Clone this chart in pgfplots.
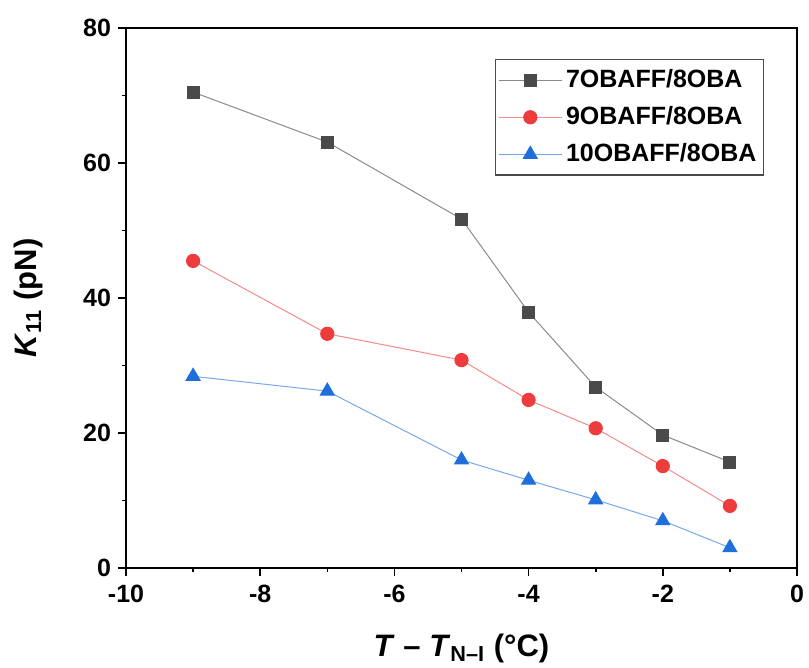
\documentclass[border=0pt]{standalone}
\usepackage{fontspec}
\setmainfont{Liberation Sans}
\usepackage{pgfplots}
\pgfplotsset{compat=1.18}

\definecolor{sgray}{HTML}{4A4A4A}
\definecolor{sgrayl}{HTML}{8A8A8A}
\definecolor{sred}{HTML}{EE3B3B}
\definecolor{sredl}{HTML}{F58A8A}
\definecolor{sblue}{HTML}{1E6FDB}
\definecolor{sbluel}{HTML}{78A8EC}

\begin{document}
\begin{tikzpicture}
\begin{axis}[
  name=main,
  scale only axis,
  width=335.5pt, height=270pt,
  xmin=-10, xmax=0, ymin=0, ymax=80,
  xtick={-10,-8,...,0}, ytick={0,20,...,80},
  minor x tick num=1, minor y tick num=1,
  xtick pos=bottom, ytick pos=left,
  tick align=outside,
  major tick length=4pt, minor tick length=2pt,
  axis line style={line width=1pt},
  every tick/.style={black, line width=0.8pt},
  /pgf/number format/assume math mode=true,
  tick label style={font=\fontsize{12.5}{15}\selectfont\bfseries},
  xticklabel style={yshift=-1pt},
  label style={font=\fontsize{15.5}{18}\selectfont\bfseries},
  xlabel={\textit{T} – \textit{T}\textsubscript{N–I} (°C)},
  ylabel={\textit{K}\textsubscript{11} (pN)},
  xlabel style={at={(axis description cs:0.5,0)}, anchor=center, yshift=-40pt},
  ylabel style={at={(axis description cs:0,0.5)}, anchor=center, yshift=49pt},
  legend style={at={(rel axis cs:1,1)}, anchor=north east,
    xshift=-16.5pt, yshift=-15.5pt,
    draw=sgray, line width=0.6pt,
    font=\fontsize{12.5}{15}\selectfont\bfseries,
    inner xsep=1.5pt, inner ysep=3pt,
    row sep=4pt, legend cell align=left},
  legend image code/.code={%
    \draw[mark repeat=2,mark phase=2] plot coordinates {(0cm,0cm) (0.55cm,0cm) (1.1cm,0cm)};},
]
\addplot[sgrayl, line width=0.5pt, mark=square*, mark size=3pt,
  mark options={sgray, fill=sgray, draw=sgray}] coordinates {
  (-9,70.5) (-7,63.1) (-5,51.7) (-4,37.9) (-3,26.8) (-2,19.7) (-1,15.7)
};
\addlegendentry{7OBAFF/8OBA}
\addplot[sredl, line width=0.5pt, mark=*, mark size=3.3pt,
  mark options={sred, fill=sred, draw=sred}] coordinates {
  (-9,45.5) (-7,34.7) (-5,30.8) (-4,24.9) (-3,20.7) (-2,15.1) (-1,9.2)
};
\addlegendentry{9OBAFF/8OBA}
\addplot[sbluel, line width=0.5pt, mark=triangle*, mark size=4pt,
  mark options={sblue, fill=sblue, draw=sblue}] coordinates {
  (-9,28.4) (-7,26.2) (-5,16.0) (-4,13.0) (-3,10.1) (-2,7.0) (-1,3.0)
};
\addlegendentry{10OBAFF/8OBA}
\end{axis}
\pgfresetboundingbox
\useasboundingbox ([shift={(-63pt,-50pt)}]main.south west) rectangle ([shift={(6pt,14pt)}]main.north east);
\end{tikzpicture}
\end{document}
